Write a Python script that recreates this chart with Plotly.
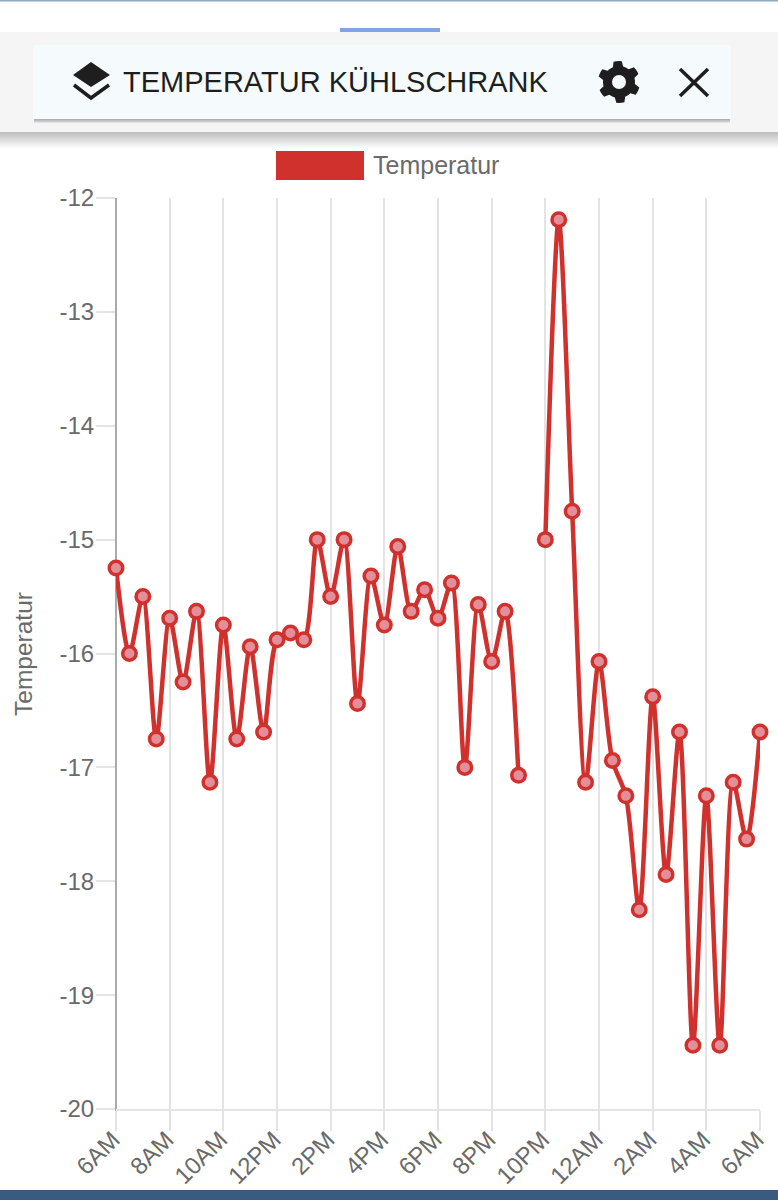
import math
import pandas as pd
import plotly.graph_objects as go

# half hourly readings, 6AM to 6AM next day, None = no reading
temperatur = [-15.25, -16, -15.5, -16.75, -15.69, -16.25, -15.63, -17.13, -15.75, -16.75,
              -15.94, -16.69, -15.88, -15.82, -15.88, -15, -15.5, -15, -16.44, -15.32,
              -15.75, -15.06, -15.63, -15.44, -15.69, -15.38, -17, -15.57, -16.07, -15.63,
              -17.07, None, -15, -12.19, -14.75, -17.13, -16.07, -16.94, -17.25, -18.25,
              -16.38, -17.94, -16.69, -19.44, -17.25, -19.44, -17.13, -17.63, -16.69]
zeiten = pd.date_range("2019-01-01 06:00", periods=len(temperatur), freq="30min")
x_labels = ['6AM', '8AM', '10AM', '12PM', '2PM', '4PM', '6PM', '8PM', '10PM', '12AM', '2AM', '4AM', '6AM']
y_werte = [-12, -13, -14, -15, -16, -17, -18, -19, -20]
y_labels = ['-12', '-13', '-14', '-15', '-16', '-17', '-18', '-19', '-20']

ROT = '#d0312d'
GRID = '#e4e4e4'
TEXT = '#6a6a6a'
FONT = 'Liberation Sans'

# plot area in page pixels
LINKS, RECHTS, OBEN, UNTEN = 116, 760, 198, 1109
B, H = 778, 1200


def px(x):
    return (x - LINKS) / (RECHTS - LINKS)


def py(y):
    return (UNTEN - y) / (UNTEN - OBEN)


def rect(x0, y0, x1, y1, farbe):
    return dict(type='rect', xref='paper', yref='paper', x0=px(x0), x1=px(x1), y0=py(y0), y1=py(y1),
                fillcolor=farbe, line_width=0, layer='below')


def pfad(punkte, farbe=None, breite=0, zu=True):
    d = 'M ' + ' L '.join('{:.5f},{:.5f}'.format(px(a), py(b)) for a, b in punkte)
    if zu:
        d += ' Z'
    return dict(type='path', xref='paper', yref='paper', path=d, layer='above',
                fillcolor=farbe if zu else 'rgba(0,0,0,0)',
                line=dict(color='#1e1e1e', width=breite))


shapes = []
# top bar of the page
shapes.append(rect(0, 0, B, 1.5, '#8fa9bd'))
shapes.append(rect(340, 28, 440, 32, '#84a3e6'))
# grey header, shadow fades out below it
for i in range(16):
    shapes.append(rect(0, 132, B, 148 - i, 'rgba(0,0,0,0.016)'))
shapes.append(rect(0, 32, B, 132, '#f5f5f5'))
# card with small shadow under it
for i in range(4):
    shapes.append(rect(34, 119, 730, 123 - i, 'rgba(0,0,0,0.08)'))
shapes.append(rect(33, 45, 731, 119, '#f5fbfc'))
# legend swatch and page footer
shapes.append(rect(276, 151, 364, 180, ROT))
shapes.append(rect(0, 1190, B, H, '#3a5a80'))

# layers icon
shapes.append(pfad([(91, 62), (110, 75), (91, 87), (73, 75)], '#1e1e1e'))
shapes.append(pfad([(74, 85), (91, 98), (109, 85)], breite=3.5, zu=False))
# gear icon
gear = []
for i in range(48):
    w = 2 * math.pi * i / 48
    r = 21 if (i + 2) % 8 < 4 else 16
    gear.append((619 + r * math.sin(w), 82 - r * math.cos(w)))
shapes.append(pfad(gear, '#1e1e1e'))
shapes.append(dict(type='circle', xref='paper', yref='paper', x0=px(612), x1=px(626), y0=py(89), y1=py(75),
                   fillcolor='#f5fbfc', line_width=0, layer='above'))
# close icon
shapes.append(pfad([(680, 69), (708, 96)], breite=3.5, zu=False))
shapes.append(pfad([(708, 69), (680, 96)], breite=3.5, zu=False))
# darker y axis line, runs down through the tick
shapes.append(dict(type='line', xref='paper', yref='paper', x0=0, x1=0, y0=py(OBEN), y1=py(1129),
                   line=dict(color='#aaaaaa', width=2), layer='below'))

annotations = [
    dict(text='TEMPERATUR KÜHLSCHRANK', x=px(121), y=py(82), xref='paper', yref='paper', xanchor='left',
         yanchor='middle', showarrow=False, font=dict(family=FONT, size=29, color='#1e1e1e')),
    dict(text='Temperatur', x=px(371), y=py(165), xref='paper', yref='paper', xanchor='left',
         yanchor='middle', showarrow=False, font=dict(family=FONT, size=25, color=TEXT)),
    dict(text='Temperatur', x=px(23), y=py(654), xref='paper', yref='paper', textangle=-90,
         xanchor='center', yanchor='middle', showarrow=False, font=dict(family=FONT, size=24.5, color=TEXT)),
]

fig = go.Figure(go.Scatter(
    x=zeiten, y=temperatur, mode='lines+markers', name='Temperatur',
    connectgaps=False, cliponaxis=False,
    line=dict(color=ROT, width=4.5, shape='spline', smoothing=0.8),
    marker=dict(size=13.5, color='#e28f9a', line=dict(color=ROT, width=3.5)),
))
fig.update_layout(
    width=B, height=H, autosize=False, showlegend=False,
    margin=dict(l=LINKS, r=B - RECHTS, t=OBEN, b=H - UNTEN, pad=0),
    paper_bgcolor='white', plot_bgcolor='white',
    font=dict(family=FONT, size=22, color=TEXT),
    shapes=shapes, annotations=annotations,
)
fig.update_xaxes(
    automargin=False,
    range=[zeiten[0], zeiten[-1]], tickvals=list(zeiten[::4]), ticktext=x_labels, tickangle=-45,
    showgrid=True, gridcolor=GRID, gridwidth=2, ticks='outside', ticklen=20, tickwidth=2, tickcolor=GRID,
    showline=True, linecolor=GRID, linewidth=2, zeroline=False,
    tickfont=dict(family=FONT, size=24, color=TEXT), ticklabelstandoff=-15, ticklabelshift=-3,
)
fig.update_yaxes(
    automargin=False,
    range=[-20, -12], tickvals=y_werte, ticktext=y_labels,
    showgrid=False, ticks='outside', ticklen=19, tickwidth=2, tickcolor=GRID,
    showline=False, zeroline=False,
    tickfont=dict(family=FONT, size=24, color=TEXT), ticklabelstandoff=-3,
)

fig.write_html("out.html", config=dict(displayModeBar=False),
               post_script="document.body.style.margin='0';document.body.style.overflow='hidden';")
